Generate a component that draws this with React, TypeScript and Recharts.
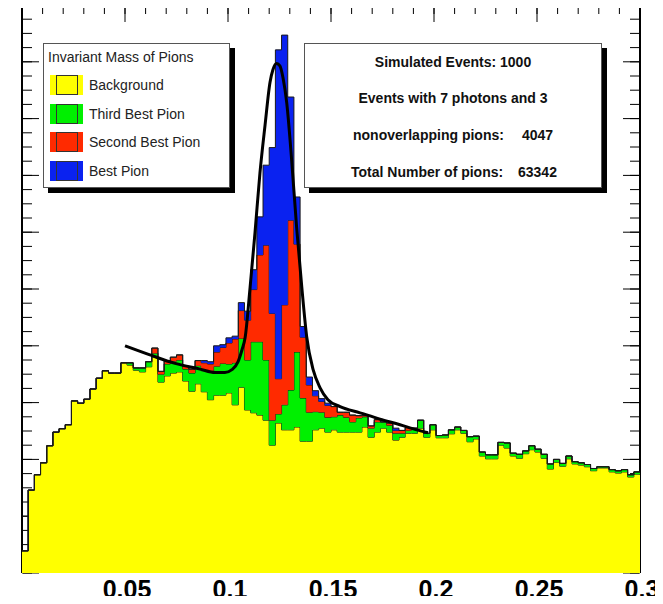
import React from "react";
import { ComposedChart, Area, Line, XAxis, YAxis } from "recharts";

// 100 bins of width 0.003 between 0 and 0.3
const BIN_WIDTH = 0.003;

// counts per bin, stacked bottom to top
const background = [
  39, 146, 173, 194, 224, 248, 254, 261, 303, 299,
  306, 324, 343, 356, 352, 352, 370, 366, 357, 354,
  363, 380, 336, 347, 352, 354, 338, 320, 333, 319,
  305, 313, 313, 317, 296, 327, 287, 282, 278, 269,
  225, 264, 252, 252, 257, 232, 232, 252, 255, 248,
  252, 248, 248, 248, 248, 257, 239, 248, 255, 248,
  234, 239, 246, 246, 255, 239, 252, 238, 238, 245,
  252, 246, 231, 236, 206, 201, 201, 225, 220, 206,
  202, 210, 217, 213, 202, 183, 195, 188, 201, 192,
  190, 187, 180, 185, 185, 178, 176, 178, 169, 174,
];
const thirdBest = [
  0, 0, 0, 0, 0, 0, 0, 0, 0, 0,
  0, 0, 0, 0, 0, 0, 0, 4, 4, 7,
  9, 7, 14, 21, 21, 21, 21, 32, 32, 37,
  51, 51, 56, 51, 74, 86, 88, 125, 129, 106,
  44, 16, 44, 70, 132, 76, 51, 32, 28, 26,
  23, 30, 26, 18, 25, 18, 16, 18, 11, 12,
  12, 7, 5, 9, 14, 7, 9, 4, 5, 7,
  5, 5, 9, 5, 7, 7, 7, 5, 9, 5,
  7, 5, 7, 5, 7, 9, 5, 5, 5, 4,
  4, 4, 4, 2, 2, 4, 4, 4, 4, 4,
];
const secondBest = [
  0, 0, 0, 0, 0, 0, 0, 0, 0, 0,
  0, 0, 0, 0, 0, 0, 0, 0, 0, 0,
  0, 9, 5, 5, 7, 9, 5, 7, 9, 14,
  12, 25, 28, 37, 42, 49, 70, 92, 153, 202,
  188, 62, 176, 299, 190, 107, 48, 28, 19, 21,
  18, 5, 9, 12, 4, 2, 4, 4, 0, 4,
  5, 5, 5, 0, 0, 0, 0, 0, 0, 0,
  0, 0, 0, 0, 0, 0, 0, 0, 0, 0,
  0, 0, 0, 0, 0, 0, 0, 0, 0, 0,
  0, 0, 0, 0, 0, 0, 0, 0, 0, 0,
];
const bestPion = [
  0, 0, 0, 0, 0, 0, 0, 0, 0, 0,
  0, 0, 0, 0, 0, 0, 0, 0, 0, 0,
  0, 0, 0, 0, 0, 0, 0, 0, 0, 4,
  4, 11, 5, 9, 5, 14, 16, 35, 67, 141,
  292, 579, 475, 217, 83, 19, 14, 9, 5, 4,
  0, 0, 0, 0, 0, 0, 0, 0, 0, 0,
  4, 0, 0, 0, 0, 0, 0, 0, 0, 0,
  0, 0, 0, 0, 0, 0, 0, 0, 0, 0,
  0, 0, 0, 0, 0, 0, 0, 0, 0, 0,
  0, 0, 0, 0, 0, 0, 0, 0, 0, 0,
];

// fit curve
const fitX = [
  0.05, 0.0621, 0.0743, 0.0864, 0.0937, 0.0985, 0.1019, 0.1049, 0.1068, 0.1083,
  0.1107, 0.1131, 0.1155, 0.118, 0.1204, 0.1218, 0.1236, 0.1252, 0.1267, 0.1285,
  0.1309, 0.1333, 0.1358, 0.1382, 0.1414, 0.1447, 0.1485, 0.1544, 0.1641, 0.1738,
  0.1835, 0.1916, 0.1971,
];
const fitY = [
  400, 384, 369, 359, 353, 353, 358, 372, 393, 414,
  502, 599, 704, 789, 864, 886, 897, 893, 872, 828,
  727, 609, 504, 416, 357, 326, 305, 293, 282, 271,
  261, 252, 247,
];

const xMajor = [0, 0.05, 0.1, 0.15, 0.2, 0.25, 0.3];
const xMinor = Array.from({ length: 31 }, (_, i) => +(i * 0.01).toFixed(2));
const yMajor = [0, 100, 200, 300, 400, 500, 600, 700, 800, 900, 1000];
const yMinor = Array.from({ length: 41 }, (_, i) => i * 25);

const legendItems = [
  { name: "Background", color: "#ffff00" },
  { name: "Third Best Pion", color: "#00f000" },
  { name: "Second Best Pion", color: "#ff2a00" },
  { name: "Best Pion", color: "#0a22f0" },
];

const histRows = Array.from({ length: background.length + 1 }, (_, i) => {
  const j = Math.min(i, background.length - 1);
  return {
    x: +(i * BIN_WIDTH).toFixed(4),
    background: background[j],
    third: thirdBest[j],
    second: secondBest[j],
    best: bestPion[j],
  };
});
const fitRows = fitX.map((x, i) => ({ x, fit: fitY[i] }));

const FONT = "'Liberation Sans', Arial, Helvetica, sans-serif";
const W = 663;
const H = 604;

const XTick = (props: any) => {
  const { x, y, payload } = props;
  const shift = payload.value === 0 ? -22 : 2;
  return (
    <text x={x + shift} y={y + 17} textAnchor="middle" fontFamily={FONT} fontWeight="bold" fontSize={25} fill="#000">
      {payload.value}
    </text>
  );
};

// tick marks only, no labels
const NoLabel = () => <g />;

const boxStyle = (left: number, top: number, width: number, height: number): React.CSSProperties => ({
  position: "absolute",
  left,
  top,
  width,
  height,
  background: "#fff",
  border: "1px solid #555",
  boxSizing: "border-box",
  boxShadow: "5px 5px 0 #000",
});

const textAt = (left: number, centerY: number, extra: React.CSSProperties = {}): React.CSSProperties => ({
  position: "absolute",
  left,
  top: centerY - 8,
  height: 16,
  lineHeight: "16px",
  fontSize: 14,
  fontFamily: FONT,
  color: "#222",
  whiteSpace: "pre",
  ...extra,
});

const layer: React.CSSProperties = { position: "absolute", left: 0, top: 0 };

// frame and tick marks, drawn underneath the histograms like ROOT does
const FrameTicks = () => {
  const tickLine = { stroke: "#000", strokeWidth: 1 };
  const frame = { stroke: "#000", strokeWidth: 2 };
  return (
    <ComposedChart width={W} height={H} data={histRows} margin={{ top: 3, right: 23, bottom: 31, left: 22 }}>
      <XAxis xAxisId="t" dataKey="x" orientation="top" type="number" domain={[0, 0.3]} allowDataOverflow ticks={xMajor} interval={0}
        height={1} tick={NoLabel} tickSize={-17} tickLine={tickLine} axisLine={false} />
      <XAxis xAxisId="tm" dataKey="x" orientation="top" type="number" domain={[0, 0.3]} allowDataOverflow ticks={xMinor} interval={0}
        height={1} tick={NoLabel} tickSize={-10} tickLine={tickLine} axisLine={false} />
      <YAxis yAxisId="l" type="number" domain={[0, 1000]} allowDataOverflow ticks={yMajor} interval={0}
        width={1} mirror tick={NoLabel} tickSize={17} tickLine={tickLine} axisLine={frame} />
      <YAxis yAxisId="lm" type="number" domain={[0, 1000]} allowDataOverflow ticks={yMinor} interval={0}
        width={1} mirror tick={NoLabel} tickSize={9} tickLine={tickLine} axisLine={false} />
      <YAxis yAxisId="r" orientation="right" type="number" domain={[0, 1000]} allowDataOverflow ticks={yMajor} interval={0}
        width={1} mirror tick={NoLabel} tickSize={17} tickLine={tickLine} axisLine={frame} />
      <YAxis yAxisId="rm" orientation="right" type="number" domain={[0, 1000]} allowDataOverflow ticks={yMinor} interval={0}
        width={1} mirror tick={NoLabel} tickSize={9} tickLine={tickLine} axisLine={false} />
    </ComposedChart>
  );
};

const Histograms = () => (
  <ComposedChart width={W} height={H} data={histRows} margin={{ top: 5, right: 23, bottom: 0, left: 22 }}>
    <XAxis xAxisId="b" dataKey="x" type="number" domain={[0, 0.3]} allowDataOverflow ticks={xMajor} interval={0}
      height={31} tickLine={false} axisLine={false} tick={<XTick />} />
    <YAxis yAxisId="l" type="number" domain={[0, 1000]} allowDataOverflow hide />

    <Area xAxisId="b" yAxisId="l" dataKey="background" stackId="h" type="stepAfter"
      fill="#ffff00" fillOpacity={1} stroke="#1a1a1a" strokeWidth={1} isAnimationActive={false} />
    <Area xAxisId="b" yAxisId="l" dataKey="third" stackId="h" type="stepAfter"
      fill="#00f000" fillOpacity={1} stroke="#1a1a1a" strokeWidth={1} isAnimationActive={false} />
    <Area xAxisId="b" yAxisId="l" dataKey="second" stackId="h" type="stepAfter"
      fill="#ff2a00" fillOpacity={1} stroke="#1a1a1a" strokeWidth={1} isAnimationActive={false} />
    <Area xAxisId="b" yAxisId="l" dataKey="best" stackId="h" type="stepAfter"
      fill="#0a22f0" fillOpacity={1} stroke="#1a1a1a" strokeWidth={1} isAnimationActive={false} />
    <Line xAxisId="b" yAxisId="l" data={fitRows} dataKey="fit" type="monotone"
      stroke="#000" strokeWidth={3} dot={false} isAnimationActive={false} />
  </ComposedChart>
);

const App = () => (
  <div style={{ margin: -8, width: W, height: H, position: "relative", overflow: "hidden", background: "#fff" }}>
    <div style={layer}><FrameTicks /></div>
    <div style={layer}><Histograms /></div>

    {/* legend */}
    <div style={boxStyle(43, 43, 187, 145)} />
    <div style={textAt(48, 57)}>Invariant Mass of Pions</div>
    {legendItems.map((item, i) => {
      const cy = 85 + i * 28.7;
      return (
        <React.Fragment key={item.name}>
          <div style={{ position: "absolute", left: 50, top: cy - 10, width: 33, height: 20, background: item.color }} />
          <div style={{ position: "absolute", left: 56, top: cy - 10, width: 22, height: 20, border: "1.5px solid #333", boxSizing: "border-box" }} />
          <div style={textAt(89, cy)}>{item.name}</div>
        </React.Fragment>
      );
    })}

    {/* event summary */}
    <div style={boxStyle(304, 43, 298, 145)} />
    <div style={textAt(304, 62, { width: 298, textAlign: "center", fontWeight: "bold", color: "#111" })}>Simulated Events: 1000</div>
    <div style={textAt(304, 98, { width: 298, textAlign: "center", fontWeight: "bold", color: "#111" })}>Events with 7 photons and 3</div>
    <div style={textAt(353, 135, { fontWeight: "bold", color: "#111" })}>nonoverlapping pions:</div>
    <div style={textAt(522, 135, { fontWeight: "bold", color: "#111" })}>4047</div>
    <div style={textAt(351, 172, { fontWeight: "bold", color: "#111" })}>Total Number of pions:</div>
    <div style={textAt(518, 172, { fontWeight: "bold", color: "#111" })}>63342</div>
  </div>
);

export default App;
